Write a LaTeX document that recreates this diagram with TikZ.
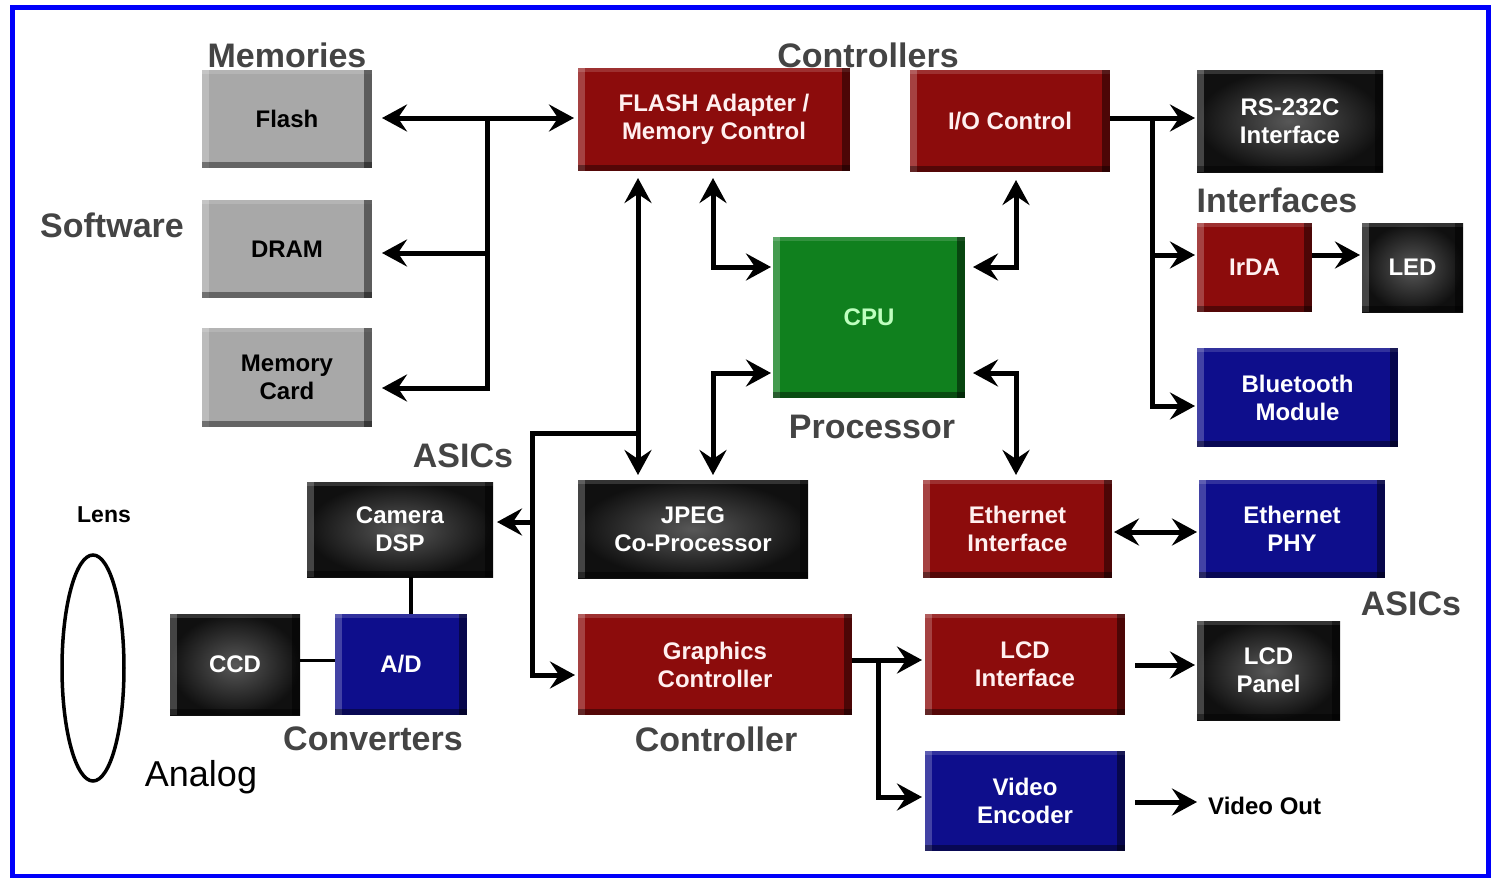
\documentclass[tikz,border=0pt]{standalone}
\usepackage{fontspec}
\setmainfont{Liberation Sans}
\usetikzlibrary{arrows.meta}

\definecolor{boxred}{RGB}{140,12,12}
\definecolor{boxblue}{RGB}{14,14,140}
\definecolor{boxgreen}{RGB}{16,128,30}
\definecolor{boxgray}{RGB}{168,168,168}
\definecolor{boxblack}{RGB}{16,16,16}
\definecolor{glow}{RGB}{88,88,88}
\definecolor{labgray}{RGB}{68,68,68}
\definecolor{frameblue}{RGB}{0,0,250}

\newcommand\boxtext{\fontsize{24}{28}\selectfont\bfseries}
\newcommand\grouptext{\fontsize{34}{37}\selectfont\bfseries}

\tikzset{
  % raised block with a light left/top rim and a dark right/bottom rim
  blk/.style={draw=none, inner sep=0pt, outer sep=0pt, align=center,
    font=\boxtext, text=white,
    path picture={
      \fill[white,opacity=.22] (path picture bounding box.north west)
        rectangle ([xshift=7pt]path picture bounding box.south west);
      \fill[white,opacity=.15] (path picture bounding box.north west)
        rectangle ([yshift=-4pt]path picture bounding box.north east);
      \fill[black,opacity=.45] ([xshift=-8pt]path picture bounding box.north east)
        rectangle (path picture bounding box.south east);
      \fill[black,opacity=.40] ([yshift=6pt]path picture bounding box.south west)
        rectangle (path picture bounding box.south east);
    }},
  sz/.style 2 args={minimum width=#1pt, minimum height=#2pt},
  graybox/.style={blk, fill=boxgray, text=black},
  redbox/.style={blk, fill=boxred, text=red!6!white},
  bluebox/.style={blk, fill=boxblue},
  greenbox/.style={blk, fill=boxgreen, text=green!25!white},
  blackbox/.style={blk, inner color=glow, outer color=boxblack},
  group/.style={font=\grouptext, text=labgray, inner sep=0pt, anchor=base},
  link/.style={line width=5pt, black},
  wire/.style={line width=3.5pt, black},
  >={Stealth[length=25pt, width=27pt, inset=9pt]},
}

\begin{document}
\begin{tikzpicture}[x=1pt, y=-1pt]
\useasboundingbox (0,0) rectangle (1491,878);
\fill[white] (0,0) rectangle (1491,878);
\draw[frameblue, line width=5pt] (12,7) rectangle (1488,876);

% memories
\node[graybox, sz={170}{98}]  (flash) at (287,119)   {Flash};
\node[graybox, sz={170}{98}]  (dram)  at (287,249)   {DRAM};
\node[graybox, sz={170}{99}]  (mcard) at (287,377.5) {Memory\\Card};

% controllers and processor
\node[redbox, sz={272}{103}]  (flashad) at (714,119.5) {FLASH Adapter /\\Memory Control};
\node[redbox, sz={200}{102}]  (io)      at (1010,121)  {I/O Control};
\node[greenbox, sz={192}{161}] (cpu)    at (869,317.5) {CPU};

% interfaces
\node[blackbox, sz={186}{102}] (rs)   at (1290,121)    {RS-232C\\Interface};
\node[redbox, sz={115}{89}]    (irda) at (1254.5,267.5) {IrDA};
\node[blackbox, sz={101}{89}]  (led)  at (1412.5,267.5) {LED};
\node[bluebox, sz={201}{99}]   (bt)   at (1297.5,397.5) {Bluetooth\\Module};

% middle row
\node[blackbox, sz={186}{95}]  (cam)  at (400,529.5)  {Camera\\DSP};
\node[blackbox, sz={230}{98}]  (jpeg) at (693,529)    {JPEG\\Co-Processor};
\node[redbox, sz={189}{98}]    (eif)  at (1017.5,529) {Ethernet\\Interface};
\node[bluebox, sz={186}{98}]   (ephy) at (1292,529)   {Ethernet\\PHY};

% bottom rows
\node[blackbox, sz={130}{101}] (ccd)   at (235,664.5)   {CCD};
\node[bluebox, sz={132}{101}]  (ad)    at (401,664.5)   {A/D};
\node[redbox, sz={274}{101}]   (gfx)   at (715,664.5)   {Graphics\\Controller};
\node[redbox, sz={200}{101}]   (lcdif) at (1025,664.5)  {LCD\\Interface};
\node[blackbox, sz={143}{99}]  (lcdp)  at (1268.5,670.5) {LCD\\Panel};
\node[bluebox, sz={200}{100}]  (venc)  at (1025,801)    {Video\\Encoder};

% lens
\draw[line width=3.5pt] (93,668) ellipse [x radius=31, y radius=113];

% group labels
\node[group] (lmem)  at (287,67)   {Memories};
\node[group] (lsw)   at (112,237)  {Software};
\node[group] (lctl)  at (868,67)   {Controllers};
\node[group] (lif)   at (1277,212) {Interfaces};
\node[group] (lproc) at (872,438)  {Processor};
\node[group] (lasl)  at (463,467)  {ASICs};
\node[group] (lasr)  at (1411,615) {ASICs};
\node[group] (lconv) at (373,750)  {Converters};
\node[group] (lgc)   at (716,751)  {Controller};
\node[font=\fontsize{36}{40}\selectfont, inner sep=0pt, anchor=base] (lana) at (201,786) {Analog};
\node[font=\fontsize{23}{26}\selectfont\bfseries, inner sep=0pt, anchor=base] (lens) at (104,522) {Lens};
\node[font=\fontsize{24}{28}\selectfont\bfseries, inner sep=0pt, anchor=west] (vout) at (1208,806) {Video Out};

% junction points of the buses
\coordinate (mT) at (487,118);
\coordinate (mD) at (487,253);
\coordinate (mB) at (487,388);
\coordinate (jb) at (638,433);
\coordinate (gT) at (532,433);
\coordinate (gC) at (532,522);
\coordinate (gB) at (532,675);
\coordinate (fc) at (713,267);
\coordinate (jc) at (713,373);
\coordinate (ic) at (1016,267);
\coordinate (ec) at (1016,373);
\coordinate (ioT) at (1152,118);
\coordinate (ioM) at (1152,255);
\coordinate (ioB) at (1152,406);
\coordinate (ethY) at (1150,532);
\coordinate (adX) at (411,600);
\coordinate (ccdY) at (320,660);
\coordinate (gJ) at (878,660);
\coordinate (gV) at (878,797);
\coordinate (lpY) at (1160,665);
\coordinate (voY) at (1160,802);

% memory bus
\draw[link,<->,shorten <=10pt,shorten >=4pt] (flash.east |- mT) -- (flashad.west |- mT);
\draw[link,->,shorten >=10pt] (mT) -- (mB) -- (mcard.east |- mB);
\draw[link,->,shorten >=10pt] (mD) -- (dram.east |- mD);

% flash adapter to jpeg, camera and graphics
\draw[link,<->,shorten <=7pt,shorten >=5pt] (flashad.south -| jb) -- (jpeg.north -| jb);
\draw[link,->,shorten >=3pt] (jb) -- (gT) -- (gB) -- (gfx.west |- gB);
\draw[link,->,shorten >=4pt] (gC) -- (cam.east |- gC);

% cpu links
\draw[link,<->,shorten <=7pt,shorten >=2pt] (flashad.south -| fc) -- (fc) -- (cpu.west |- fc);
\draw[link,<->,shorten <=5pt,shorten >=2pt] (jpeg.north -| jc) -- (jc) -- (cpu.west |- jc);
\draw[link,<->,shorten <=8pt,shorten >=8pt] (cpu.east |- ic) -- (ic) -- (io.south -| ic);
\draw[link,<->,shorten <=8pt,shorten >=5pt] (cpu.east |- ec) -- (ec) -- (eif.north -| ec);

% i/o fan-out
\draw[link,->,shorten >=2pt] (io.east |- ioT) -- (rs.west |- ioT);
\draw[link,->,shorten >=2pt] (ioT) -- (ioB) -- (bt.west |- ioB);
\draw[link,->,shorten >=2pt] (ioM) -- (irda.west |- ioM);
\draw[link,->,shorten >=2pt] (irda.east |- ioM) -- (led.west |- ioM);

% ethernet
\draw[link,<->,shorten <=2pt,shorten >=2pt] (eif.east |- ethY) -- (ephy.west |- ethY);

% image sensor chain
\draw[wire, line width=4pt] (cam.south -| adX) -- (ad.north -| adX);
\draw[wire, line width=3pt] (ccd.east |- ccdY) -- (ad.west |- ccdY);

% display outputs
\draw[link,->,shorten >=3pt] (gfx.east |- gJ) -- (lcdif.west |- gJ);
\draw[link,->,shorten >=3pt] (gJ) -- (gV) -- (venc.west |- gV);
\draw[link,->,shorten <=10pt,shorten >=2pt] (lcdif.east |- lpY) -- (lcdp.west |- lpY);
\draw[link,->,shorten <=10pt,shorten >=11pt] (venc.east |- voY) -- (vout.west |- voY);
\end{tikzpicture}
\end{document}
